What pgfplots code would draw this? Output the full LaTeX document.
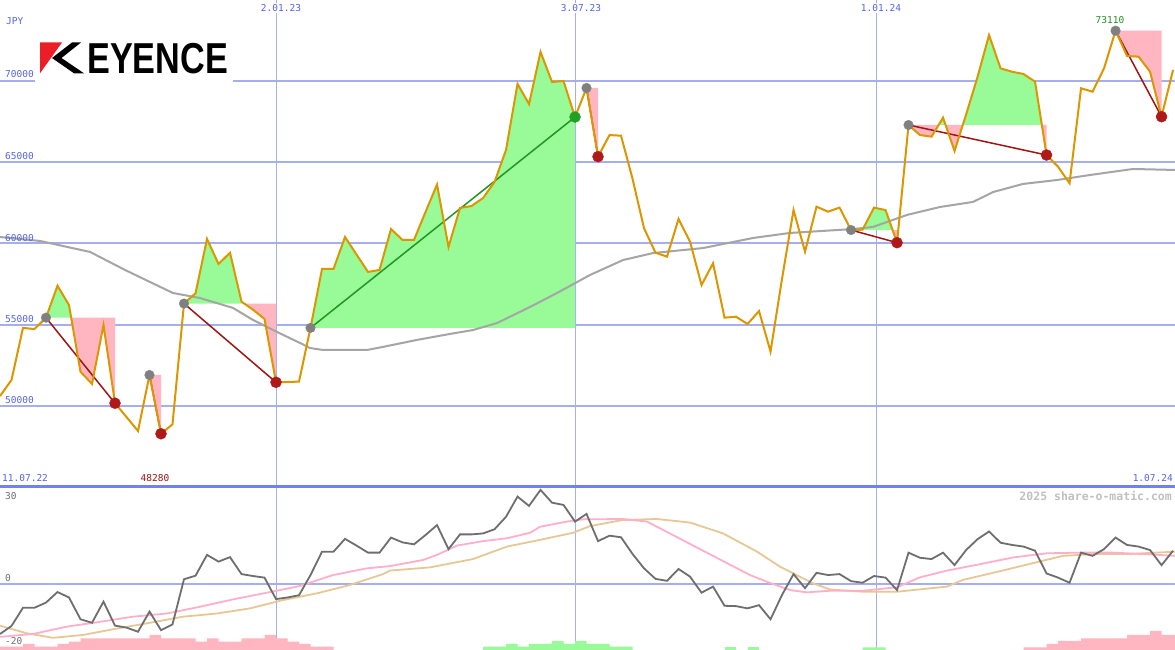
\documentclass[border=0pt]{standalone}
\usepackage{pgfplots}
\pgfplotsset{compat=1.18}
\usepackage{graphicx}
\usepackage{fontspec}
\setmainfont{DejaVu Sans}
\newfontfamily\monof{DejaVu Sans Mono}
\newfontfamily\logof{Liberation Sans}
\definecolor{labelblue}{RGB}{85,100,235}
\definecolor{gridblue}{RGB}{165,175,240}
\definecolor{sepblue}{RGB}{115,130,235}
\definecolor{priceor}{RGB}{220,150,0}
\definecolor{magrey}{RGB}{165,165,165}
\definecolor{fillgreen}{RGB}{152,251,152}
\definecolor{fillpink}{RGB}{255,182,193}
\definecolor{dotred}{RGB}{175,25,25}
\definecolor{linered}{RGB}{160,20,20}
\definecolor{dotgrey}{RGB}{128,128,128}
\definecolor{dotgreen}{RGB}{34,160,34}
\definecolor{linegreen}{RGB}{34,150,34}
\definecolor{oscgrey}{RGB}{110,110,110}
\definecolor{oscpink}{RGB}{255,175,200}
\definecolor{osctan}{RGB}{230,200,150}
\definecolor{wmgrey}{RGB}{192,192,192}
\definecolor{logored}{RGB}{235,30,40}
\begin{document}
\begin{tikzpicture}
\useasboundingbox (0pt,0pt) rectangle (1175pt,650pt);
\fill[white] (0pt,0pt) rectangle (1175pt,650pt);
% vertical date grid lines
\draw[gridblue, line width=1pt] (276pt,0pt) -- (276pt,650pt);
\draw[gridblue, line width=1pt] (575pt,0pt) -- (575pt,650pt);
\draw[gridblue, line width=1pt] (876pt,0pt) -- (876pt,650pt);

% ---------------- upper panel ----------------
\begin{axis}[at={(0pt,163pt)}, anchor=south west, scale only axis,
  width=1175pt, height=487pt, xmin=0, xmax=102.17, ymin=45000, ymax=75000,
  axis line style={draw=none}, xtick=\empty, ytick={50000,55000,60000,65000,70000},
  yticklabels={}, scaled y ticks=false, major tick length=0pt,
  ymajorgrids, grid style={gridblue, line width=2pt}, clip=false]
% fills
\addplot[fill=fillgreen, draw=none] coordinates {(4,55430)(5,57400)(6,56210)(6.19,55430)} --cycle;
\addplot[fill=fillpink, draw=none] coordinates {(6.19,55430)(7,52100)(8,51350)(9,54980)(10,50160)(10,55430)} --cycle;
\addplot[fill=fillpink, draw=none] coordinates {(13,51900)(14,48280)(14,51900)} --cycle;
\addplot[fill=fillgreen, draw=none] coordinates {(16,56300)(17,56930)(18,60280)(19,58740)(20,59430)(21,56420)(21.24,56300)} --cycle;
\addplot[fill=fillpink, draw=none] coordinates {(21.24,56300)(22,55920)(23,55350)(24,51450)(24,56300)} --cycle;
\addplot[fill=fillgreen, draw=none] coordinates {(27,54800)(28,58430)(29,58430)(30,60400)(31,59320)(32,58250)(33,58370)(34,60890)(35,60220)(36,60220)(37,61940)(38,63630)(39,59790)(40,62190)(41,62310)(42,62800)(43,63790)(44,65760)(45,69830)(46,68590)(47,71800)(48,69950)(49,70010)(50,67790)(50,54800)} --cycle;
\addplot[fill=fillpink, draw=none] coordinates {(51,69580)(52,65350)(52,69580)} --cycle;
\addplot[fill=fillgreen, draw=none] coordinates {(74,60830)(75,60850)(76,62210)(77,62060)(77.61,60830)} --cycle;
\addplot[fill=fillpink, draw=none] coordinates {(77.61,60830)(78,60050)(78,60830)} --cycle;
\addplot[fill=fillpink, draw=none] coordinates {(79,67300)(80,66680)(81,66580)(81.615,67300)} --cycle;
\addplot[fill=fillgreen, draw=none] coordinates {(81.615,67300)(82,67750)(82.22,67300)} --cycle;
\addplot[fill=fillpink, draw=none] coordinates {(82.22,67300)(83,65700)(83.717,67300)} --cycle;
\addplot[fill=fillgreen, draw=none] coordinates {(83.717,67300)(84,67930)(85,70260)(86,72840)(87,70790)(88,70580)(89,70440)(90,69970)(90.59,67300)} --cycle;
\addplot[fill=fillpink, draw=none] coordinates {(90.59,67300)(91,65450)(91,67300)} --cycle;
\addplot[fill=fillpink, draw=none] coordinates {(97,73110)(98,71550)(99,71510)(100,70580)(101,67810)(101,73110)} --cycle;
% moving average
\addplot[magrey, line width=2pt] coordinates {(0,60400)(3.48,60155)(7.83,59480)(10.87,58370)(13.04,57630)(15.04,56950)(17.39,56640)(20.26,56030)(22.0,55290)(24.09,54550)(26.09,53870)(26.96,53560)(28.09,53440)(31.91,53440)(33.30,53630)(36.26,54060)(39.13,54430)(41.13,54670)(43.22,55100)(46.09,56090)(48.43,56950)(51.30,58060)(54.17,58980)(56.78,59410)(61.13,59720)(65.48,60340)(68.70,60650)(74.17,60890)(75.91,61020)(78.87,61760)(81.74,62250)(84.61,62560)(86.35,63170)(88.96,63670)(91.91,63910)(94.78,64220)(98.52,64590)(102.17,64530)};
% connectors
\addplot[linered, line width=1.5pt] coordinates {(4,55430)(10,50160)};
\addplot[linered, line width=1.5pt] coordinates {(13,51900)(14,48280)};
\addplot[linered, line width=1.5pt] coordinates {(16,56300)(24,51450)};
\addplot[linegreen, line width=1.5pt] coordinates {(27,54800)(50,67790)};
\addplot[linered, line width=1.5pt] coordinates {(51,69580)(52,65350)};
\addplot[linered, line width=1.5pt] coordinates {(74,60830)(78,60050)};
\addplot[linered, line width=1.5pt] coordinates {(79,67300)(91,65450)};
\addplot[linered, line width=1.5pt] coordinates {(97,73110)(101,67810)};
% price
\addplot[priceor, line width=2pt] coordinates {(0,50600)(1,51590)(2,54800)(3,54730)(4,55430)(5,57400)(6,56210)(7,52100)(8,51350)(9,54980)(10,50160)(11,49310)(12,48450)(13,51900)(14,48280)(15,48860)(16,56300)(17,56930)(18,60280)(19,58740)(20,59430)(21,56420)(22,55920)(23,55350)(24,51450)(25,51470)(26,51490)(27,54800)(28,58430)(29,58430)(30,60400)(31,59320)(32,58250)(33,58370)(34,60890)(35,60220)(36,60220)(37,61940)(38,63630)(39,59790)(40,62190)(41,62310)(42,62800)(43,63790)(44,65760)(45,69830)(46,68590)(47,71800)(48,69950)(49,70010)(50,67790)(51,69580)(52,65350)(53,66680)(54,66640)(55,63990)(56,60940)(57,59430)(58,59190)(59,61510)(60,60110)(61,57440)(62,58780)(63,55430)(64,55490)(65,55040)(66,55840)(67,53340)(68,57830)(69,62060)(70,59500)(71,62270)(72,61960)(73,62210)(74,60830)(75,60850)(76,62210)(77,62060)(78,60050)(79,67300)(80,66680)(81,66580)(82,67750)(83,65700)(84,67930)(85,70260)(86,72840)(87,70790)(88,70580)(89,70440)(90,69970)(91,65450)(92,64730)(93,63710)(94,69560)(95,69350)(96,70790)(97,73110)(98,71550)(99,71510)(100,70580)(101,67810)(102,70690)};
% markers
\addplot[only marks, mark=*, mark size=4.8pt, color=dotgrey] coordinates {(4,55430)(13,51900)(16,56300)(27,54800)(51,69580)(74,60830)(79,67300)(97,73110)};
\addplot[only marks, mark=*, mark size=5.5pt, color=dotred] coordinates {(10,50160)(14,48280)(24,51450)(52,65350)(78,60050)(91,65450)(101,67810)};
\addplot[only marks, mark=*, mark size=5.5pt, color=dotgreen] coordinates {(50,67790)};
\end{axis}

% ---------------- histogram bars (lower panel) ----------------
\begin{axis}[at={(0pt,0pt)}, anchor=south west, scale only axis,
  width=1175pt, height=163pt, xmin=0, xmax=102.17, ymin=0, ymax=163, hide axis]
\addplot[ybar interval, fill=fillpink, draw=none] coordinates {(0,3.3)(1,3.3)(2,6)(3,3.3)(4,3.3)(5,6)(6,8.3)(7,11.7)(8,11.7)(9,11.7)(10,11.7)(11,11.7)(12,11.7)(13,15)(14,11.7)(15,11.7)(16,11.7)(17,8.3)(18,11.7)(19,8.3)(20,8.3)(21,11.7)(22,11.7)(23,15)(24,11.7)(25,8.3)(26,6)(27,3.3)(28,3.3)(29,0)};
\addplot[ybar interval, fill=fillgreen, draw=none] coordinates {(42,3.3)(43,3.3)(44,6)(45,3.3)(46,6)(47,6)(48,9)(49,6)(50,9)(51,6)(52,6)(53,3.3)(54,3.3)(55,0)};
\addplot[ybar interval, fill=fillgreen, draw=none] coordinates {(63,3.3)(64,0)};
\addplot[ybar interval, fill=fillgreen, draw=none] coordinates {(65,3.3)(66,0)};
\addplot[ybar interval, fill=fillgreen, draw=none] coordinates {(75,2.7)(76,2.7)(77,0)};
\addplot[ybar interval, fill=fillpink, draw=none] coordinates {(89,2.7)(90,2.7)(91,6)(92,9)(93,9)(94,11.7)(95,11.7)(96,11.7)(97,11.7)(98,15)(99,15)(100,19)(101,15)(102.17,0)};
\end{axis}

% ---------------- lower panel ----------------
\begin{axis}[at={(0pt,0pt)}, anchor=south west, scale only axis,
  width=1175pt, height=163pt, xmin=0, xmax=102.17, ymin=-20.6, ymax=30.3,
  axis line style={draw=none}, xtick=\empty, ytick={0}, yticklabels={},
  major tick length=0pt, ymajorgrids, grid style={gridblue, line width=2pt}, clip=false]
\addplot[osctan, line width=1.8pt] coordinates {(0,-13.0)(2.35,-15.4)(4.61,-16.8)(7.22,-15.9)(10.17,-13.9)(13.04,-12.1)(15.91,-10.2)(18.87,-9.2)(21.74,-7.6)(24.61,-5.0)(27.57,-2.9)(30.43,-0.3)(33.30,3.1)(33.91,4.2)(37.39,5.2)(41.13,7.8)(44.09,11.7)(46.96,13.8)(49.83,16.0)(51.30,18.1)(54.17,20.0)(57.13,20.3)(60.0,19.2)(62.87,15.8)(65.83,10.1)(67.83,5.4)(70.70,0.2)(72.17,-1.7)(75.04,-2.4)(78.0,-2.4)(82.35,-0.8)(83.74,1.3)(86.70,3.8)(89.57,6.3)(92.43,8.8)(95.39,9.4)(98.26,9.4)(102.17,10.1)};
\addplot[oscpink, line width=1.8pt] coordinates {(0,-16.5)(2.87,-15.6)(5.83,-13.3)(8.70,-11.8)(11.57,-10.2)(14.52,-9.2)(17.39,-7.1)(20.26,-4.8)(23.22,-2.7)(26.09,-0.6)(28.96,2.8)(31.91,4.9)(33.91,5.6)(36.78,7.5)(38.0,9.1)(39.74,12.0)(42.0,13.4)(44.09,14.3)(46.09,16.0)(46.96,17.9)(49.30,19.5)(50.70,20.2)(54.17,20.3)(56.26,19.5)(60.87,10.9)(65.22,2.8)(66.70,0.7)(68.70,-1.9)(70.17,-2.6)(72.17,-2.1)(75.04,-2.1)(78.0,-1.0)(80.0,2.1)(82.35,4.2)(85.22,6.2)(88.09,8.3)(91.04,9.6)(93.91,9.8)(96.78,9.8)(99.74,9.3)(102.17,8.8)};
\addplot[oscgrey, line width=1.8pt] coordinates {(0,-15.6)(1,-13.1)(2,-7.4)(3,-7.4)(4,-5.8)(5,-2.5)(6,-4.2)(7,-11.0)(8,-12.1)(9,-5.5)(10,-13.0)(11,-13.6)(12,-14.9)(13,-8.6)(14,-14.4)(15,-12.6)(16,1.5)(17,2.6)(18,9.1)(19,7.0)(20,8.4)(21,3.1)(22,2.5)(23,2.0)(24,-4.7)(25,-4.2)(26,-3.5)(27,2.8)(28,10.1)(29,10.1)(30,14.1)(31,12.0)(32,9.8)(33,9.8)(34,14.5)(35,13.0)(36,12.4)(37,15.3)(38,18.4)(39,10.9)(40,15.5)(41,15.5)(42,15.8)(43,17.1)(44,21.0)(45,27.3)(46,24.4)(47,29.4)(48,25.4)(49,24.7)(50,19.5)(51,21.9)(52,13.4)(53,15.1)(54,14.6)(55,9.4)(56,4.9)(57,1.6)(58,1.0)(59,4.7)(60,2.3)(61,-2.7)(62,-0.8)(63,-6.8)(64,-6.9)(65,-7.6)(66,-6.6)(67,-11.0)(68,-3.4)(69,3.1)(70,-1.3)(71,3.5)(72,2.8)(73,3.1)(74,0.9)(75,0.4)(76,2.5)(77,2.0)(78,-1.9)(79,9.8)(80,8.2)(81,7.8)(82,9.8)(83,5.9)(84,10.6)(85,14.0)(86,16.4)(87,12.9)(88,12.2)(89,11.7)(90,10.4)(91,3.3)(92,2.0)(93,0.4)(94,9.8)(95,8.8)(96,10.9)(97,14.5)(98,12.2)(99,11.7)(100,10.6)(101,5.9)(102,10.4)};
\end{axis}

% separator
\draw[sepblue, line width=3pt] (0pt,163pt) -- (1175pt,163pt);

% logo
\fill[white] (35pt,565pt) rectangle (233pt,616pt);
\fill[logored] (40pt,607.5pt) -- (62pt,607.5pt) -- (40pt,576.7pt) -- cycle;
\fill[black] (72pt,607.5pt) -- (81pt,607.5pt) -- (61.5pt,592pt) -- (84pt,576.7pt) -- (74pt,576.7pt) -- (52pt,592pt) -- cycle;
\node[anchor=base west, inner sep=0pt] at (87pt,576.7pt) {\scalebox{0.79}[1]{\logof\bfseries\fontsize{43.3}{44}\selectfont EYENCE}};

% labels
\begin{scope}[every node/.style={inner sep=0pt}]
\node[text=labelblue, anchor=west] at (6pt,629pt) {\monof\fontsize{9.5}{10}\selectfont JPY};
\node[text=labelblue, anchor=west] at (5pt,576pt) {\monof\fontsize{9.5}{10}\selectfont 70000};
\node[text=labelblue, anchor=west] at (5pt,494pt) {\monof\fontsize{9.5}{10}\selectfont 65000};
\node[text=labelblue, anchor=west] at (5pt,412pt) {\monof\fontsize{9.5}{10}\selectfont 60000};
\node[text=labelblue, anchor=west] at (5pt,331pt) {\monof\fontsize{9.5}{10}\selectfont 55000};
\node[text=labelblue, anchor=west] at (5pt,250pt) {\monof\fontsize{9.5}{10}\selectfont 50000};
\node[text=labelblue, fill=white, inner sep=1.5pt] at (281pt,642pt) {\monof\fontsize{9.5}{10}\selectfont 2.01.23};
\node[text=labelblue, fill=white, inner sep=1.5pt] at (581pt,642pt) {\monof\fontsize{9.5}{10}\selectfont 3.07.23};
\node[text=labelblue, fill=white, inner sep=1.5pt] at (881pt,642pt) {\monof\fontsize{9.5}{10}\selectfont 1.01.24};
\node[text=labelblue, anchor=west] at (2pt,172pt) {\monof\fontsize{9.5}{10}\selectfont 11.07.22};
\node[text=labelblue, anchor=east] at (1173pt,172pt) {\monof\fontsize{9.5}{10}\selectfont 1.07.24};
\node[text=linered] at (155pt,172pt) {\monof\fontsize{9.5}{10}\selectfont 48280};
\node[text=linegreen] at (1110pt,630pt) {\monof\fontsize{9.5}{10}\selectfont 73110};
\node[text=wmgrey, anchor=east] at (1172pt,154pt) {\monof\bfseries\fontsize{11.5}{12}\selectfont 2025 share-o-matic.com};
\node[text=oscgrey, anchor=west] at (5pt,154pt) {\monof\fontsize{9.5}{10}\selectfont 30};
\node[text=oscgrey, anchor=west] at (5pt,72pt) {\monof\fontsize{9.5}{10}\selectfont 0};
\node[text=oscgrey, anchor=west] at (5pt,9pt) {\monof\fontsize{9.5}{10}\selectfont -20};
\end{scope}
\end{tikzpicture}
\end{document}
